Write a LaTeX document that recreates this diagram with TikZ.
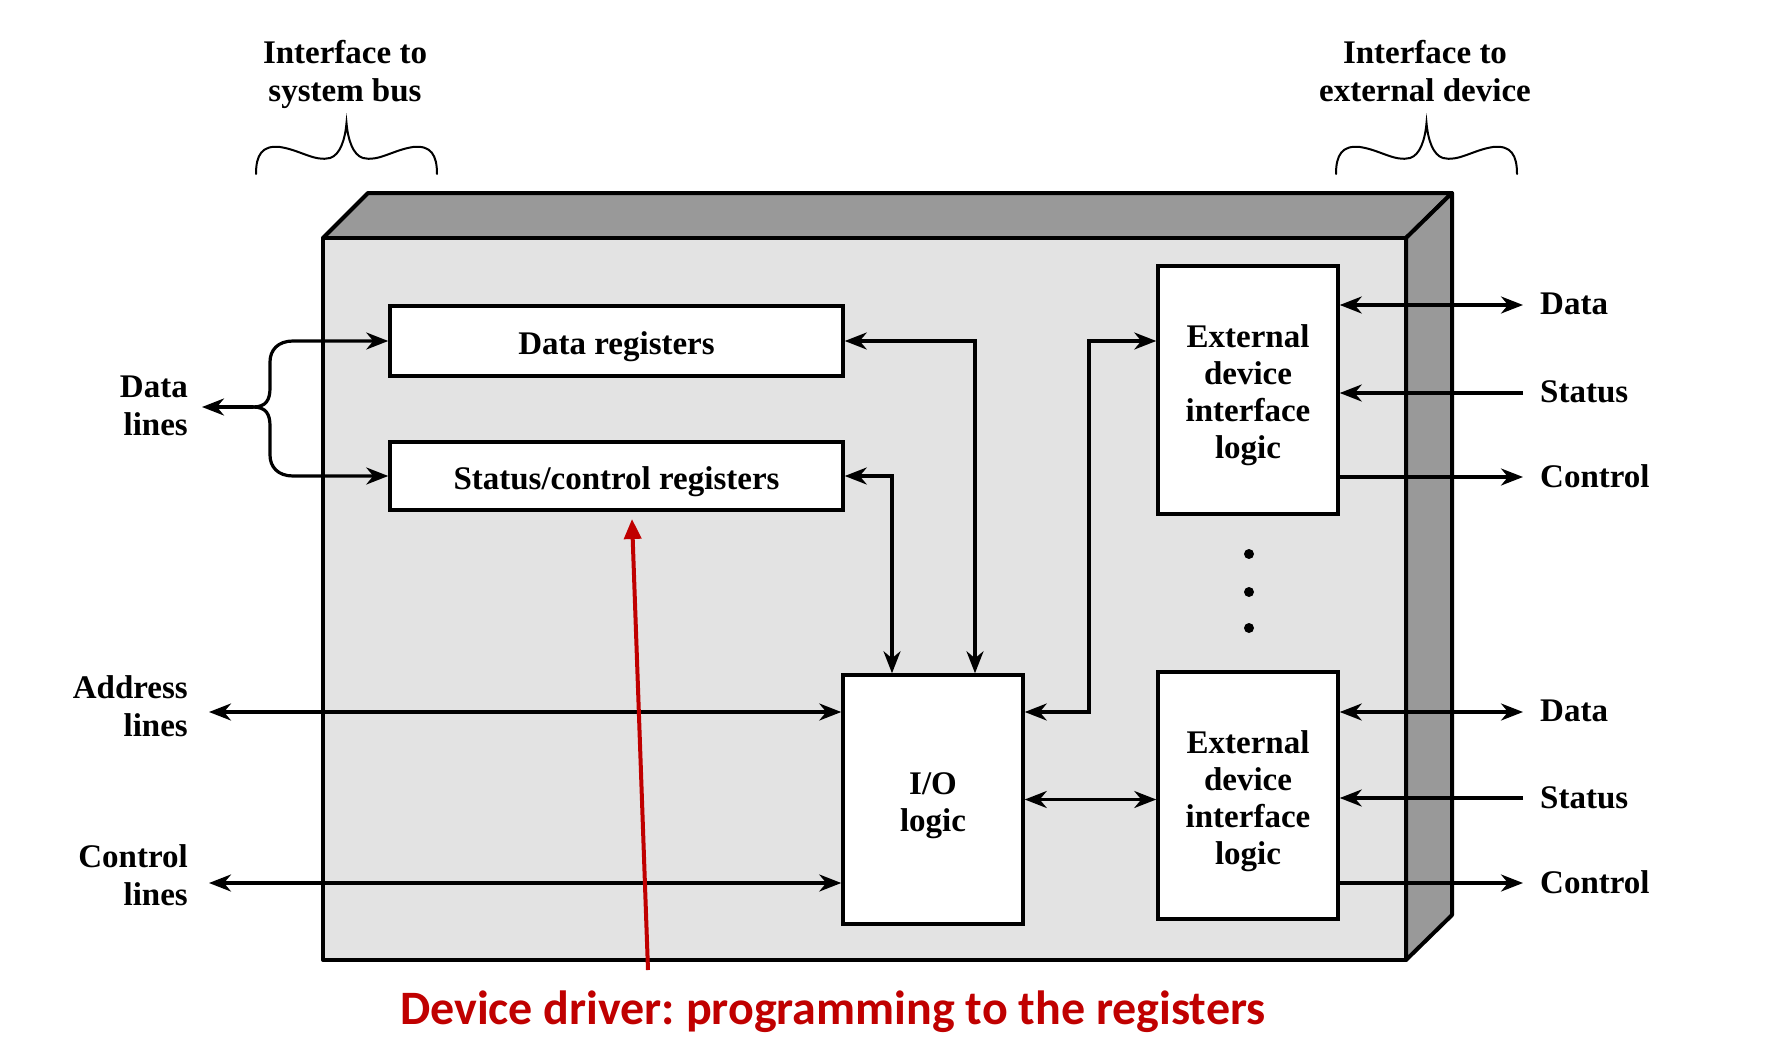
\documentclass[tikz,border=0pt]{standalone}
\usepackage{fontspec}
\setmainfont{Liberation Serif}
\newfontfamily\calibfont{Carlito}
\usetikzlibrary{arrows.meta,calc}
\definecolor{facegray}{HTML}{E3E3E3}
\definecolor{sidegray}{HTML}{999999}
\definecolor{drvred}{HTML}{C00000}
\frenchspacing
\newcommand{\topstrut}{\rule{0pt}{33.5pt}}
\begin{document}
\begin{tikzpicture}[x=1pt,y=-1pt,
  >={Stealth[length=22pt,width=17pt,inset=7pt]},
  face/.style={draw, line width=4pt, line join=round},
  box/.style={draw, line width=3.5pt, fill=white, inner sep=0pt, align=center,
              font=\fontsize{33}{37}\selectfont\bfseries},
  conn/.style={line width=3.2pt},
  lbl/.style={inner sep=0pt, font=\fontsize{33}{38}\selectfont\bfseries},
  bracepath/.style={line width=2pt, line cap=round}]
\useasboundingbox (0,0) rectangle (1765,1041);
\fill[white] (0,0) rectangle (1765,1041);
% --- housing ---
\coordinate (fnw) at (323,238);
\coordinate (fne) at (1406,238);
\coordinate (fse) at (1406,960);
\coordinate (bnw) at (368,193);
\coordinate (bne) at (1452,193);
\coordinate (bse) at (1452,915);
\filldraw[face, fill=sidegray] (fnw) -- (bnw) -- (bne) -- (fne) -- cycle;
\filldraw[face, fill=sidegray] (fne) -- (bne) -- (bse) -- (fse) -- cycle;
\filldraw[face, fill=facegray] (fnw) rectangle (fse);
% --- braces and headings ---
\foreach \dx in {0,1080}{
  \draw[bracepath, xshift=\dx pt] (256,174) .. controls (256,155) and (262,145) .. (280,147)
     .. controls (300,150) and (315,162) .. (330,158)
     .. controls (340,155) and (345,140) .. (346.5,123)
     .. controls (348,140) and (353,155) .. (363,158)
     .. controls (378,162) and (393,150) .. (413,147)
     .. controls (431,145) and (437,155) .. (437,174);
}
\node[lbl, align=center, anchor=north] (ifsys) at (345,40.5) {Interface to\\system bus};
\node[lbl, align=center, anchor=north] (ifext) at (1425,40.5) {Interface to\\external device};
% --- blocks ---
\node[box, minimum width=453pt, minimum height=70pt] (dreg) at (616.5,341) {\topstrut Data registers};
\node[box, minimum width=453pt, minimum height=68pt] (sreg) at (616.5,476) {\topstrut Status/control registers};
\node[box, minimum width=180pt, minimum height=248pt] (ext1) at (1248,390) {\topstrut External\\device\\interface\\logic};
\node[box, minimum width=180pt, minimum height=247pt] (ext2) at (1248,795.5) {\topstrut External\\device\\interface\\logic};
\node[box, minimum width=180pt, minimum height=249pt] (io) at (933,799.5) {\topstrut I/O\\logic};
\foreach \y in {554,592,628} \fill (1249,\y) circle (5pt);
% --- left side ---
\node[lbl, align=right, anchor=north east] (dlab) at (188,375.5) {Data\\lines};
\node[lbl, align=right, anchor=north east] (alab) at (188,675.5) {Address\\lines};
\node[lbl, align=right, anchor=north east] (clab) at (188,844.5) {Control\\lines};
\coordinate (dl) at (202,407);
\coordinate (jn) at (253,407);
\coordinate (addr) at (209,712);
\coordinate (ctl) at (209,883);
\draw[conn, ->] (jn) -- (dl);
\draw[conn, ->] (jn) .. controls (266,407) and (270,400) .. (270,388) -- (270,362)
   .. controls (270,350) and (278,341) .. (293,341) -- (dreg.west);
\draw[conn, ->] (jn) .. controls (266,407) and (270,414) .. (270,426) -- (270,455)
   .. controls (270,467) and (278,476) .. (293,476) -- (sreg.west);
\draw[conn, <->] (addr) -- (addr -| io.west);
\draw[conn, <->] (ctl) -- (ctl -| io.west);
% --- internal connectors ---
\coordinate (c1) at (975,0);
\coordinate (c2) at (892,0);
\coordinate (c3) at (1089,0);
\draw[conn, <->] (io.north -| c1) |- (dreg.east);
\draw[conn, <->] (io.north -| c2) |- (sreg.east);
\draw[conn, <->] (io.east |- addr) -- (c3 |- addr) |- (ext1.west |- dreg.east);
\draw[conn, <->] (io.east) -- (io.east -| ext2.west);
% --- right side ---
\coordinate (r1) at (1523,305);
\coordinate (r2) at (1523,393);
\coordinate (r3) at (1523,477);
\coordinate (r4) at (1523,712);
\coordinate (r5) at (1523,798);
\coordinate (r6) at (1523,883);
\draw[conn, <->] (ext1.east |- r1) -- (r1);
\draw[conn, ->] (r2) -- (ext1.east |- r2);
\draw[conn, ->] (ext1.east |- r3) -- (r3);
\draw[conn, <->] (ext2.east |- r4) -- (r4);
\draw[conn, ->] (r5) -- (ext2.east |- r5);
\draw[conn, ->] (ext2.east |- r6) -- (r6);
\node[lbl, anchor=base west] (t1) at (1540,314) {Data};
\node[lbl, anchor=base west] (t2) at (1540,402) {Status};
\node[lbl, anchor=base west] (t3) at (1540,487) {Control};
\node[lbl, anchor=base west] (t4) at (1540,721) {Data};
\node[lbl, anchor=base west] (t5) at (1540,808) {Status};
\node[lbl, anchor=base west] (t6) at (1540,893) {Control};
% --- device driver annotation ---
\coordinate (rs) at (648,970);
\coordinate (re) at (632,519);
\draw[line width=4pt, drvred, -{Triangle[length=20pt,width=17pt]}] (rs) -- (re);
\node[inner sep=0pt, anchor=base west, text=drvred,
      font=\calibfont\bfseries\fontsize{48}{53}\selectfont] (drv) at (400,1024)
      {Device driver: programming to the registers};
\end{tikzpicture}
\end{document}
